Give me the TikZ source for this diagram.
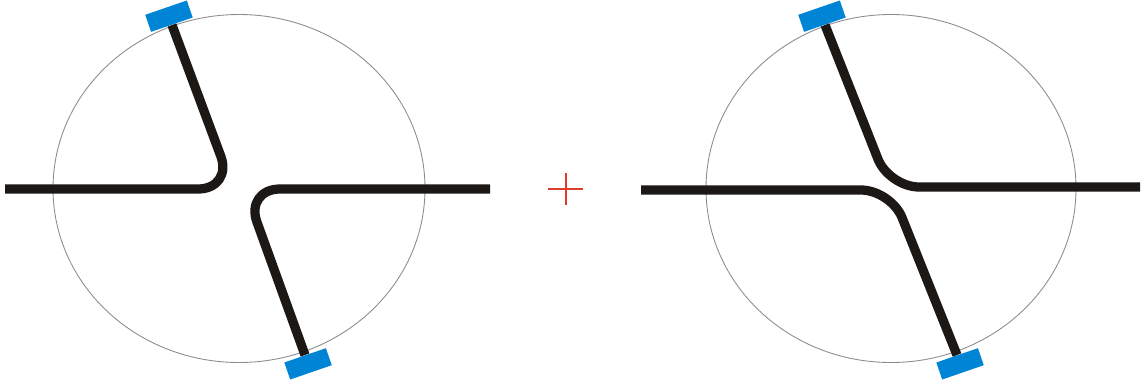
\documentclass[tikz,border=0pt]{standalone}
\definecolor{trackc}{RGB}{28,24,22}
\definecolor{pinc}{RGB}{0,133,214}
\definecolor{ringc}{RGB}{140,140,140}
\definecolor{crossc}{RGB}{222,60,45}
\begin{document}
\begin{tikzpicture}[x=0.02cm,y=-0.02cm,
  track/.style={draw=trackc, line width=0.185cm},
  pinbox/.style={fill=pinc, minimum width=0.88cm, minimum height=0.36cm, inner sep=0pt, rotate=19},
  ring/.style={draw=ringc, line width=0.5pt},
  cross/.style={draw=crossc, line width=1.1pt}]
\useasboundingbox (0,0) rectangle (1145,383);
% left figure
\draw[ring] (239,188.5) ellipse [x radius=186, y radius=174];
\node[pinbox, anchor=south] (p1) at (172,25) {};
\node[pinbox, anchor=north] (p2) at (305,355) {};
\coordinate (a1) at (5,189);
\coordinate (k1) at (233,189);
\coordinate (a2) at (490,189);
\coordinate (k2) at (245,189);
\draw[track, rounded corners=0.7cm] (a1) -- (k1) -- (p1.south);
\draw[track, rounded corners=0.7cm] (a2) -- (k2) -- (p2.north);
% plus
\coordinate (c) at (566,189);
\draw[cross] ([xshift=-0.36cm]c) -- ([xshift=0.34cm]c);
\draw[cross] ([yshift=0.32cm]c) -- ([yshift=-0.32cm]c);
% right figure
\draw[ring] (891,188.5) ellipse [x radius=185, y radius=174];
\node[pinbox, anchor=south] (p3) at (825,25) {};
\node[pinbox, anchor=north] (p4) at (957,355) {};
\coordinate (b1) at (1140,187);
\coordinate (m1) at (889,187);
\coordinate (b2) at (641,190);
\coordinate (m2) at (891,190);
\draw[track, rounded corners=0.6cm] (b1) -- (m1) -- (p3.south);
\draw[track, rounded corners=0.6cm] (b2) -- (m2) -- (p4.north);
\end{tikzpicture}
\end{document}
